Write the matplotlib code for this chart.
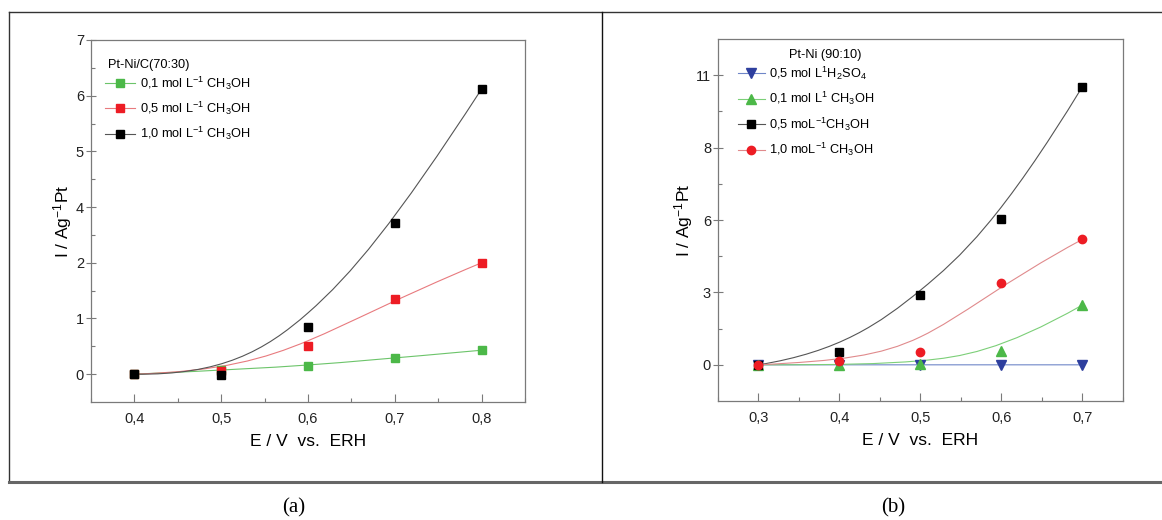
import numpy as np
import matplotlib
matplotlib.use("Agg")
import matplotlib.pyplot as plt
from matplotlib.lines import Line2D
from matplotlib.path import Path
from matplotlib.patches import PathPatch

plt.rcParams["font.family"] = ["Liberation Sans", "DejaVu Sans"]
plt.rcParams["mathtext.fontset"] = "custom"
plt.rcParams["mathtext.rm"] = "Liberation Sans"
plt.rcParams["mathtext.default"] = "regular"

# panel (a): Pt-Ni/C(70:30), values in plotted axis units
e_a = [0.4, 0.5, 0.6, 0.7, 0.8]
i_a_01 = [0.0, 0.07, 0.15, 0.29, 0.43]
i_a_05 = [0.0, 0.05, 0.50, 1.35, 2.00]
i_a_10 = [0.0, -0.02, 0.85, 2.72, 5.12]
yticks_a = [0, 1, 2, 3, 4, 5, 6]
yticklabels_a = ["0", "1", "2", "4", "5", "6", "7"]
xticks_a = [0.4, 0.5, 0.6, 0.7, 0.8]

# panel (b): Pt-Ni (90:10)
e_b = [0.3, 0.4, 0.5, 0.6, 0.7]
i_b_h2so4 = [0.0, 0.0, 0.0, 0.0, 0.0]
i_b_01 = [0.0, 0.0, 0.05, 0.58, 2.48]
i_b_05 = [0.0, 0.54, 2.90, 6.03, 11.53]
i_b_10 = [0.0, 0.17, 0.54, 3.39, 5.20]
yticks_b = [0, 3, 6, 9, 12]
yticklabels_b = ["0", "3", "6", "8", "11"]
xticks_b = [0.3, 0.4, 0.5, 0.6, 0.7]

GREEN = "#4cb848"
RED = "#ed1c24"
BLUE = "#2e3f9e"
SPINE = "#7a7a7a"


def bspline_path(x, y):
    # clamped cubic B-spline ("B-Spline" line connect) with the 5 data points
    # as control points, split into two Bezier segments
    p = np.column_stack([x, y]).astype(float)
    mid = (p[1] + 2 * p[2] + p[3]) / 4
    verts = [p[0], p[1], (p[1] + p[2]) / 2, mid, (p[2] + p[3]) / 2, p[3], p[4]]
    codes = [Path.MOVETO] + [Path.CURVE4] * 6
    return Path(verts, codes)


def style_axes(ax, xticks, yticks, yticklabels, xlim, ylim):
    ax.set_xlim(*xlim)
    ax.set_ylim(*ylim)
    ax.set_xticks(xticks)
    ax.set_xticklabels([f"{t:.1f}".replace(".", ",") for t in xticks])
    ax.set_xticks([t + 0.05 for t in xticks[:-1]] + [xticks[0] - 0.05, xticks[-1] + 0.05], minor=True)
    ax.set_yticks(yticks)
    ax.set_yticklabels(yticklabels)
    step = yticks[1] - yticks[0]
    ax.set_yticks([t + step / 2 for t in yticks[:-1]], minor=True)
    for s in ax.spines.values():
        s.set_color(SPINE)
        s.set_linewidth(0.9)
    ax.tick_params(axis="x", which="major", direction="in", length=6, width=0.8,
                   color=SPINE, labelsize=10.5, pad=7, labelcolor="#222222")
    ax.tick_params(axis="x", which="minor", direction="in", length=3, width=0.8, color=SPINE)
    ax.tick_params(axis="y", which="major", direction="inout", length=7, width=0.8,
                   color=SPINE, labelsize=10.5, pad=1.5, labelcolor="#222222")
    ax.tick_params(axis="y", which="minor", direction="in", length=3, width=0.8, color=SPINE)
    ax.set_xlabel("E / V  vs.  ERH", fontsize=12.5, labelpad=6)
    ax.set_ylabel("I / Ag$^{-1}$Pt", fontsize=12.5, labelpad=1)


fig = plt.figure(figsize=(11.62, 5.2), dpi=100)
ax_a = fig.add_axes([0.0783, 0.2269, 0.3735, 0.6962])
ax_b = fig.add_axes([0.6179, 0.2288, 0.3485, 0.6962])

# (a)
series_a = [
    (i_a_01, GREEN, "#6cc46a", "0,1 mol L$^{-1}$ CH$_3$OH"),
    (i_a_05, RED, "#e87a7e", "0,5 mol L$^{-1}$ CH$_3$OH"),
    (i_a_10, "black", "#555555", "1,0 mol L$^{-1}$ CH$_3$OH"),
]
handles_a = []
for vals, mc, lc, lab in series_a:
    ax_a.add_patch(PathPatch(bspline_path(e_a, vals), fill=False, edgecolor=lc, lw=0.8, zorder=2))
    ax_a.plot(e_a, vals, ls="none", marker="s", ms=5.5, color=mc, zorder=3)
    handles_a.append(Line2D([], [], color=lc, lw=0.8, marker="s", ms=5.5,
                            markerfacecolor=mc, markeredgecolor=mc, label=lab))
style_axes(ax_a, xticks_a, yticks_a, yticklabels_a, (0.35, 0.85), (-0.5, 6.0))
ax_a.legend(handles=handles_a, loc="upper left",
            bbox_to_anchor=(0.032, 0.905), frameon=False, fontsize=9.2,
            handlelength=2.35, handletextpad=0.4,
            labelspacing=0.62, borderpad=0, borderaxespad=0)
ax_a.text(0.039, 0.930, "Pt-Ni/C(70:30)", transform=ax_a.transAxes,
          ha="left", va="center", fontsize=9.2)

# (b)
series_b = [
    (i_b_h2so4, BLUE, "#6f86c8", "v", 6.5, "0,5 mol L$^{1}$H$_2$SO$_4$"),
    (i_b_01, GREEN, "#7ccf78", "^", 6.5, "0,1 mol L$^{1}$ CH$_3$OH"),
    (i_b_05, "black", "#555555", "s", 5.5, "0,5 moL$^{-1}$CH$_3$OH"),
    (i_b_10, RED, "#e08a8c", "o", 6.0, "1,0 moL$^{-1}$ CH$_3$OH"),
]
handles_b = []
for vals, mc, lc, mk, ms, lab in series_b:
    ax_b.add_patch(PathPatch(bspline_path(e_b, vals), fill=False, edgecolor=lc, lw=0.8, zorder=2))
    ax_b.plot(e_b, vals, ls="none", marker=mk, ms=ms, color=mc, zorder=3)
    handles_b.append(Line2D([], [], color=lc, lw=0.8, marker=mk, ms=ms,
                            markerfacecolor=mc, markeredgecolor=mc, label=lab))
style_axes(ax_b, xticks_b, yticks_b, yticklabels_b, (0.25, 0.75), (-1.5, 13.5))
ax_b.legend(handles=handles_b, loc="upper left",
            bbox_to_anchor=(0.049, 0.93), frameon=False, fontsize=9.2,
            handlelength=2.1, handletextpad=0.3,
            labelspacing=0.65, borderpad=0, borderaxespad=0)
ax_b.text(0.264, 0.957, "Pt-Ni (90:10)", transform=ax_b.transAxes,
          ha="center", va="center", fontsize=9.2)

# outer frame and panel letters
W, H = 1162.0, 520.0
frame = [
    ((9, 1162), (12, 12), "#333333", 1.0),
    ((9, 9), (12, 482), "#333333", 1.0),
    ((9, 1162), (482, 482), "#666666", 2.2),
    ((602, 602), (12, 482), "#111111", 1.0),
]
for xs, ys, c, lw in frame:
    fig.add_artist(Line2D([x / W for x in xs], [1 - y / H for y in ys],
                          color=c, lw=lw, transform=fig.transFigure))
fig.text(294 / W, 1 - 508 / H, "(a)", ha="center", va="center",
         fontsize=15, family=["Liberation Serif", "DejaVu Serif"])
fig.text(893 / W, 1 - 508 / H, "(b)", ha="center", va="center",
         fontsize=15, family=["Liberation Serif", "DejaVu Serif"])

fig.savefig("out.png", dpi=100)
